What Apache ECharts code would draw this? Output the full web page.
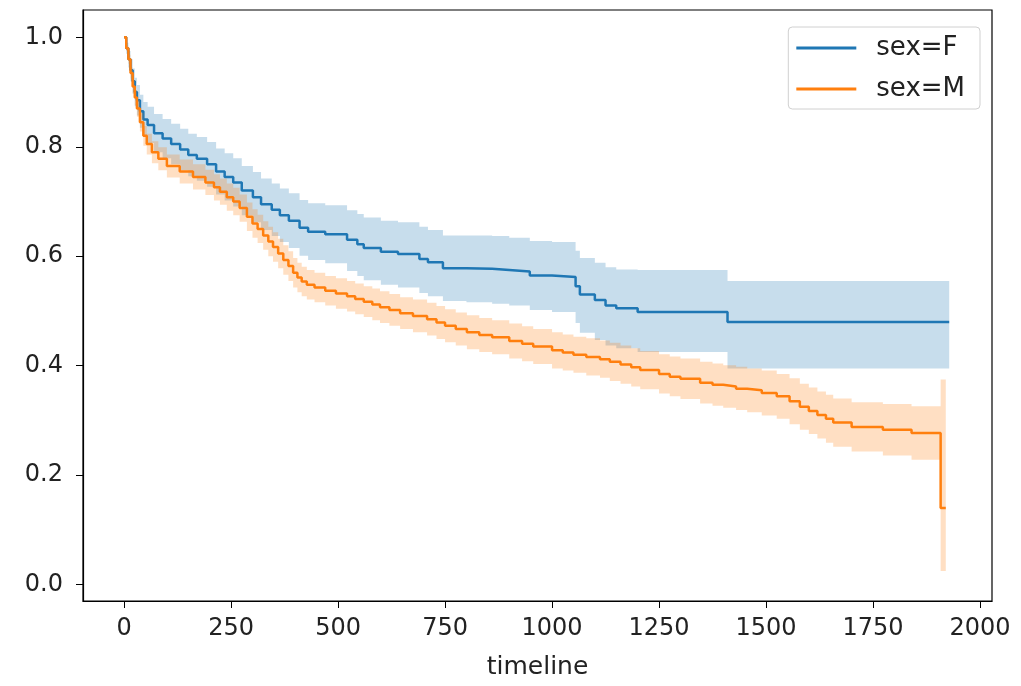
<!DOCTYPE html>
<html>
<head>
<meta charset="utf-8">
<script src="https://cdn.jsdelivr.net/npm/echarts@6/dist/echarts.min.js"></script>
<style>
  html, body { margin: 0; padding: 0; background: #fff; }
  #main { width: 1021px; height: 686px; }
</style>
</head>
<body>
<div id="main"></div>
<script>
// Kaplan-Meier estimates
var xTicks = [0, 250, 500, 750, 1000, 1250, 1500, 1750, 2000]
var yTicks = [0, 0.2, 0.4, 0.6, 0.8, 1.0]

var fTime = [0, 5, 10, 15, 20, 25, 30, 37, 45, 55, 70, 90, 110, 131, 150, 170, 194, 215, 235, 255,
  275, 301, 320, 345, 364, 385, 410, 430, 470, 521, 545, 560, 600, 640, 690, 710, 745, 800, 860, 900,
  948, 1000, 1055, 1065, 1100, 1125, 1150, 1200, 1410, 1928]
var fSurv = [1.0, 0.98, 0.96, 0.94, 0.92, 0.90, 0.885, 0.865, 0.85, 0.84, 0.825, 0.815, 0.805, 0.795, 0.785, 0.778, 0.768, 0.755, 0.745, 0.735,
  0.72, 0.708, 0.695, 0.685, 0.675, 0.665, 0.652, 0.645, 0.64, 0.63, 0.622, 0.615, 0.608, 0.604, 0.595, 0.589, 0.578, 0.577, 0.575, 0.572,
  0.565, 0.562, 0.545, 0.53, 0.52, 0.51, 0.505, 0.498, 0.48, 0.48]
var fLower = [1.0, 0.97, 0.945, 0.92, 0.897, 0.874, 0.857, 0.835, 0.818, 0.807, 0.79, 0.779, 0.768, 0.757, 0.746, 0.738, 0.727, 0.713, 0.702, 0.691,
  0.675, 0.662, 0.648, 0.637, 0.626, 0.615, 0.601, 0.593, 0.587, 0.573, 0.564, 0.556, 0.548, 0.543, 0.533, 0.527, 0.518, 0.516, 0.513, 0.51,
  0.502, 0.498, 0.478, 0.46, 0.447, 0.437, 0.432, 0.425, 0.395, 0.395]
var fUpper = [1.0, 0.99, 0.975, 0.96, 0.943, 0.926, 0.913, 0.895, 0.882, 0.873, 0.86, 0.851, 0.842, 0.833, 0.824, 0.818, 0.809, 0.797, 0.788, 0.779,
  0.765, 0.754, 0.742, 0.733, 0.724, 0.715, 0.703, 0.697, 0.693, 0.684, 0.677, 0.671, 0.665, 0.662, 0.654, 0.648, 0.638, 0.638, 0.637, 0.634,
  0.628, 0.626, 0.61, 0.597, 0.588, 0.58, 0.576, 0.575, 0.555, 0.555]

var mTime = [0, 5, 10, 15, 20, 25, 30, 37, 45, 53, 65, 80, 100, 130, 161, 190, 210, 224, 240, 255,
  270, 287, 300, 312, 325, 337, 348, 360, 372, 384, 395, 405, 415, 427, 445, 470, 495, 521, 540, 560,
  580, 598, 620, 645, 675, 708, 730, 750, 775, 801, 830, 860, 900, 930, 956, 1000, 1025, 1050, 1080, 1112,
  1135, 1160, 1185, 1206, 1250, 1275, 1300, 1346, 1375, 1400, 1430, 1456, 1490, 1525, 1555, 1579, 1600, 1620, 1640, 1657,
  1700, 1773, 1840, 1908, 1920]
var mSurv = [1.0, 0.98, 0.96, 0.935, 0.91, 0.89, 0.87, 0.845, 0.82, 0.805, 0.79, 0.778, 0.765, 0.755, 0.745, 0.735, 0.726, 0.718, 0.708, 0.700,
  0.688, 0.672, 0.660, 0.650, 0.638, 0.627, 0.617, 0.605, 0.593, 0.582, 0.570, 0.561, 0.554, 0.548, 0.543, 0.537, 0.532, 0.527, 0.522, 0.517,
  0.512, 0.507, 0.502, 0.496, 0.491, 0.485, 0.479, 0.473, 0.467, 0.461, 0.456, 0.452, 0.445, 0.440, 0.435, 0.428, 0.424, 0.420, 0.416, 0.412,
  0.407, 0.402, 0.397, 0.392, 0.385, 0.380, 0.376, 0.369, 0.365, 0.362, 0.358, 0.355, 0.350, 0.344, 0.335, 0.325, 0.317, 0.310, 0.303, 0.296,
  0.288, 0.283, 0.277, 0.140, 0.140]
var mLower = [1.0, 0.975, 0.952, 0.925, 0.898, 0.876, 0.855, 0.828, 0.802, 0.786, 0.770, 0.757, 0.744, 0.733, 0.722, 0.712, 0.702, 0.694, 0.683, 0.675,
  0.663, 0.646, 0.634, 0.624, 0.612, 0.600, 0.590, 0.578, 0.566, 0.555, 0.543, 0.534, 0.527, 0.521, 0.516, 0.510, 0.504, 0.499, 0.494, 0.489,
  0.483, 0.478, 0.473, 0.467, 0.461, 0.455, 0.449, 0.443, 0.437, 0.430, 0.425, 0.421, 0.413, 0.408, 0.403, 0.395, 0.391, 0.387, 0.382, 0.378,
  0.372, 0.367, 0.362, 0.357, 0.349, 0.344, 0.339, 0.331, 0.327, 0.323, 0.319, 0.315, 0.309, 0.303, 0.293, 0.283, 0.275, 0.267, 0.259, 0.252,
  0.243, 0.236, 0.228, 0.025, 0.025]
var mUpper = [1.0, 0.985, 0.968, 0.945, 0.922, 0.904, 0.885, 0.862, 0.838, 0.824, 0.810, 0.799, 0.786, 0.777, 0.768, 0.758, 0.750, 0.742, 0.733, 0.725,
  0.713, 0.698, 0.686, 0.676, 0.664, 0.654, 0.644, 0.632, 0.620, 0.609, 0.597, 0.588, 0.581, 0.575, 0.570, 0.564, 0.560, 0.555, 0.550, 0.545,
  0.541, 0.536, 0.531, 0.525, 0.521, 0.515, 0.509, 0.503, 0.497, 0.492, 0.487, 0.483, 0.477, 0.472, 0.467, 0.461, 0.457, 0.453, 0.450, 0.446,
  0.442, 0.437, 0.432, 0.427, 0.421, 0.417, 0.413, 0.407, 0.404, 0.401, 0.398, 0.395, 0.391, 0.385, 0.377, 0.367, 0.360, 0.353, 0.347, 0.340,
  0.333, 0.330, 0.326, 0.375, 0.375]

var blue = '#1f77b4'
var orange = '#ff7f0e'
var font = 'DejaVu Sans'

function pairs(xs, ys) {
  return xs.map(function (x, i) { return [x, ys[i]] })
}
function triples(xs, lo, hi) {
  return xs.map(function (x, i) { return [x, lo[i], hi[i]] })
}

// confidence band drawn as one stepped polygon, every vertex through api.coord
function renderBand(color) {
  return function (params, api) {
    if (params.dataIndexInside !== 0) return null
    var n = params.dataInsideLength
    var top = [], bottom = []
    for (var i = 0; i < n; i++) {
      var x0 = api.value(0, i)
      var x1 = i < n - 1 ? api.value(0, i + 1) : x0
      var lo = api.value(1, i)
      var hi = api.value(2, i)
      top.push(api.coord([x0, hi]), api.coord([x1, hi]))
      bottom.push(api.coord([x0, lo]), api.coord([x1, lo]))
    }
    var pts = top.concat(bottom.reverse())
    return {
      type: 'polygon',
      shape: { points: pts },
      style: { fill: color, opacity: 0.25 },
      silent: true
    }
  }
}

var myChart = echarts.init(document.getElementById('main'), null, { renderer: 'canvas' })
myChart.setOption({
  animation: false,
  backgroundColor: '#fff',
  textStyle: { fontFamily: font },
  grid: {
    left: 83, right: 29, top: 10, bottom: 85,
    show: true, borderColor: '#000', borderWidth: 1.2, backgroundColor: 'transparent'
  },
  legend: {
    data: ['sex=F', 'sex=M'],
    orient: 'vertical',
    right: 41, top: 27,
    padding: [8, 15, 7, 8],
    itemWidth: 60, itemHeight: 3, itemGap: 15,
    icon: 'rect',
    borderColor: '#d0d0d0', borderWidth: 1, borderRadius: 4,
    backgroundColor: 'rgba(255,255,255,0.8)',
    textStyle: { fontFamily: font, fontSize: 26, color: '#222', padding: [0, 0, 0, 15] }
  },
  xAxis: {
    type: 'value', min: -96, max: 2028,
    name: 'timeline', nameLocation: 'middle', nameGap: 54,
    nameTextStyle: { fontFamily: font, fontSize: 25, color: '#222' },
    axisLine: { show: true, onZero: false, lineStyle: { color: '#000', width: 1.2 } },
    axisTick: { show: true, length: 7, customValues: xTicks, lineStyle: { color: '#000' } },
    axisLabel: {
      customValues: xTicks, fontFamily: font, fontSize: 24, color: '#222', margin: 16,
      formatter: function (v) { return String(v) }
    },
    splitLine: { show: false }
  },
  yAxis: {
    type: 'value', min: -0.03, max: 1.05,
    axisLine: { show: true, onZero: false, lineStyle: { color: '#000', width: 1.2 } },
    axisTick: { show: true, length: 7, customValues: yTicks, lineStyle: { color: '#000' } },
    axisLabel: {
      customValues: yTicks, fontFamily: font, fontSize: 24, color: '#222', margin: 20,
      formatter: function (v) { return v.toFixed(1) }
    },
    splitLine: { show: false }
  },
  series: [
    {
      name: 'F band', type: 'custom', renderItem: renderBand(blue), silent: true,
      encode: { x: 0, y: [1, 2] }, data: triples(fTime, fLower, fUpper), z: 1
    },
    {
      name: 'sex=F', type: 'line', step: 'end', symbol: 'none', z: 2,
      lineStyle: { color: blue, width: 2.5 }, itemStyle: { color: blue },
      data: pairs(fTime, fSurv)
    },
    {
      name: 'M band', type: 'custom', renderItem: renderBand(orange), silent: true,
      encode: { x: 0, y: [1, 2] }, data: triples(mTime, mLower, mUpper), z: 3
    },
    {
      name: 'sex=M', type: 'line', step: 'end', symbol: 'none', z: 4,
      lineStyle: { color: orange, width: 2.5 }, itemStyle: { color: orange },
      data: pairs(mTime, mSurv)
    }
  ]
})
</script>
</body>
</html>
